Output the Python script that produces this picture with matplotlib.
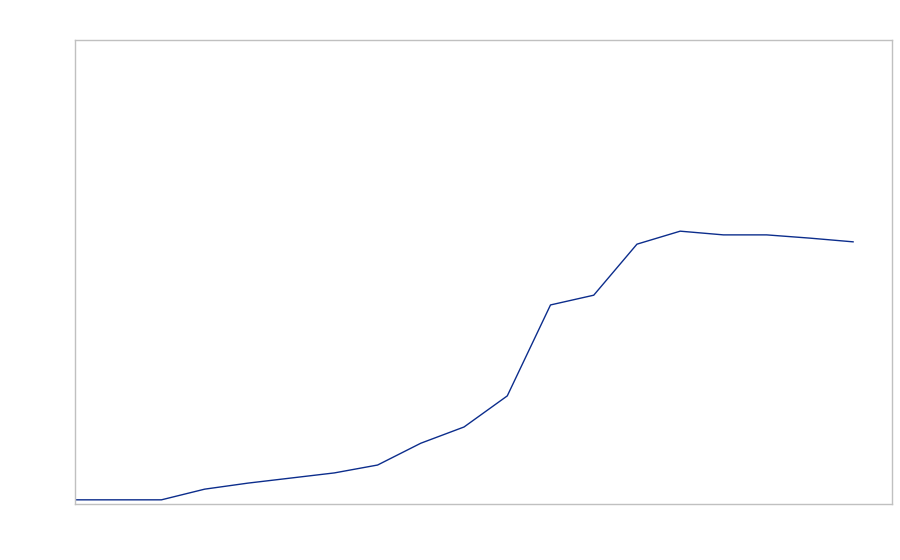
import matplotlib
matplotlib.use("Agg")
import matplotlib.pyplot as plt

# values (share of the axis height, in %)
steps = list(range(19))
values = [0.9, 0.9, 0.9, 3.2, 4.5, 5.6, 6.7, 8.4, 13.1, 16.6, 23.3,
          42.9, 45.0, 56.0, 58.8, 58.0, 58.0, 57.3, 56.5]

fig = plt.figure(figsize=(9, 5.6), dpi=100)
ax = fig.add_axes([75 / 900, 1 - 504 / 560, 817 / 900, 464 / 560])

ax.plot(steps, values, color="#0c2d8c", linewidth=1.0)

ax.set_xlim(0, 18.9)
ax.set_ylim(0, 100)
ax.set_xticks([])
ax.set_yticks([])
for spine in ax.spines.values():
    spine.set_color("#c0c0c0")
    spine.set_linewidth(1.0)

plt.savefig("out.png", dpi=100)
